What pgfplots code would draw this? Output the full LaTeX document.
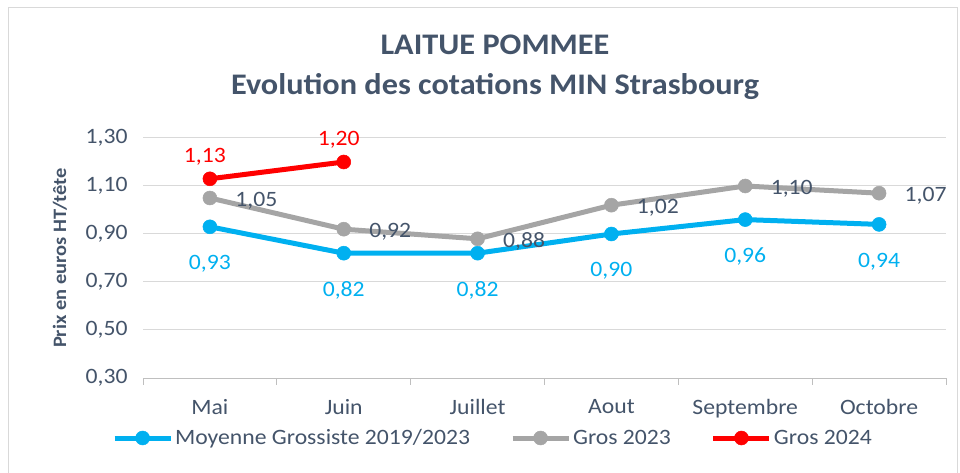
\documentclass[border=0pt]{standalone}
\usepackage{pgfplots}
\pgfplotsset{compat=1.18}
\usepackage{fontspec}
\setmainfont{Carlito}[FakeStretch=1.08]
\definecolor{txt}{HTML}{44546A}
\definecolor{cblue}{HTML}{00B0F0}
\definecolor{cgray}{HTML}{A5A5A5}
\definecolor{cred}{HTML}{FF0000}
\definecolor{gridc}{HTML}{D9D9D9}
\definecolor{axisc}{HTML}{BFBFBF}
\begin{document}
\begin{tikzpicture}
\useasboundingbox (0,0) rectangle (960bp,473bp);
\draw[gridc,line width=1bp] (8.5bp,-5bp) rectangle (957bp,465.5bp);
\node[txt,font=\bfseries\fontsize{30}{40}\selectfont,align=center] at (495bp,406bp) {LAITUE POMMEE\\Evolution des cotations MIN Strasbourg};
\begin{axis}[
  at={(143bp,95bp)}, anchor=south west,
  scale only axis, width=803bp, height=240bp,
  xmin=-0.5, xmax=5.5, ymin=0.3, ymax=1.3,
  xtick={0,...,5},
  xticklabels={Mai,Juin,Juillet,Aout,Septembre,Octobre},
  ytick={0.3,0.5,...,1.31},
  major tick length=0pt,
  axis line style={draw=none},
  ymajorgrids, grid style={draw=gridc,line width=1bp},
  xticklabel style={txt,font=\fontsize{22}{26}\selectfont,yshift=-18bp},
  yticklabel style={txt,font=\fontsize{22}{26}\selectfont,xshift=-12bp},
  yticklabel={\pgfmathprintnumber[use comma,fixed,fixed zerofill,precision=2]{\tick}},
  ylabel={\bfseries Prix en euros HT/tête},
  every axis y label/.style={at={(-83bp,120bp)},rotate=90,anchor=center,txt,font=\fontsize{19}{22}\selectfont},
  /pgf/number format/assume math mode=true,
  nodes near coords,
  every node near coord/.append style={font=\fontsize{22}{26}\selectfont},
  nodes near coords={\pgfmathprintnumber[use comma,fixed,fixed zerofill,precision=2,assume math mode=true]{\pgfplotspointmeta}},
  legend columns=3,
  legend style={draw=none,fill=none,at={(350bp,-60bp)},anchor=center,
    font=\fontsize{22}{26}\selectfont,text=txt,
    nodes={inner xsep=2bp},
    /tikz/every odd column/.append style={column sep=0bp},
    /tikz/every even column/.append style={column sep=38bp}},
  legend image code/.code={\draw[mark repeat=2,mark phase=2,#1] plot coordinates {(0bp,0bp)(28bp,0bp)(56bp,0bp)};},
  clip=false,
]
\draw[axisc,line width=1bp] (axis cs:-0.5,0.3) -- (axis cs:5.5,0.3);
\pgfplotsinvokeforeach{-0.5,0.5,1.5,2.5,3.5,4.5,5.5}{
  \draw[axisc,line width=1bp] (axis cs:#1,0.3) -- ([yshift=-7bp]axis cs:#1,0.3);
}
\addplot[cblue,line width=5bp,mark=*,mark size=7bp,mark options={line width=0.5bp},
  every node near coord/.append style={cblue,anchor=center,yshift=-37bp}]
  coordinates {(0,0.93)(1,0.82)(2,0.82)(3,0.90)(4,0.96)(5,0.94)};
\addlegendentry{Moyenne Grossiste 2019/2023}
\addplot[cgray,line width=5bp,mark=*,mark size=7bp,mark options={line width=0.5bp},
  every node near coord/.append style={txt,anchor=west,xshift=22bp,yshift=-3bp}]
  coordinates {(0,1.05)(1,0.92)(2,0.88)(3,1.02)(4,1.10)(5,1.07)};
\addlegendentry{Gros 2023}
\addplot[cred,line width=5bp,mark=*,mark size=7bp,mark options={line width=0.5bp},
  every node near coord/.append style={cred,anchor=center,yshift=22bp,xshift=-5bp}]
  coordinates {(0,1.13)(1,1.20)};
\addlegendentry{Gros 2024}
\end{axis}
\end{tikzpicture}
\end{document}
